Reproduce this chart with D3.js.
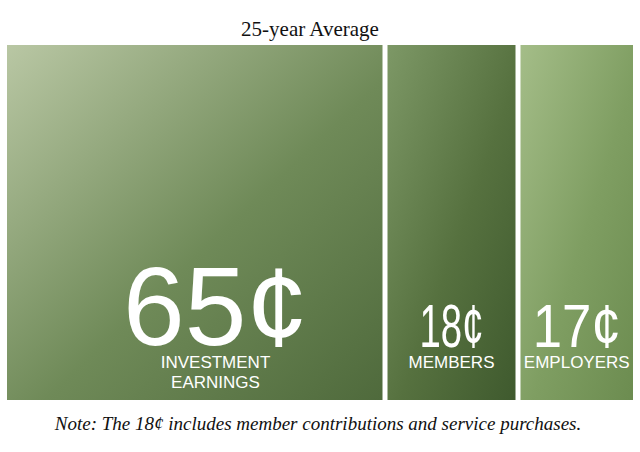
<!DOCTYPE html>
<html><head><meta charset="utf-8">
<script src="https://cdn.jsdelivr.net/npm/d3@7"></script>
<style>body{margin:0;background:#fff}</style></head>
<body><svg id="c" width="640" height="452"></svg>
<script>
const categories = ["INVESTMENT|EARNINGS", "MEMBERS", "EMPLOYERS"];
const values = [65, 18, 17];
const valueLabels = ["65¢", "18¢", "17¢"];
const title = "25-year Average";
const note = "Note: The 18¢ includes member contributions and service purchases.";
const fills = [["#b9c7a4","#6f8a58","#4f6a3c"],["#7d9866","#56713f","#3f5a2e"],["#a4bd88","#7f9e62","#6c8c50"]];

(function(){
const svg = d3.select("#c");
const defs = svg.append("defs");
fills.forEach((f,i)=>{
  const g = defs.append("linearGradient").attr("id","g"+i).attr("x1",0).attr("y1",0).attr("x2",1).attr("y2",1);
  g.append("stop").attr("offset","0%").attr("stop-color",f[0]);
  g.append("stop").attr("offset","55%").attr("stop-color",f[1]);
  g.append("stop").attr("offset","100%").attr("stop-color",f[2]);
});
const cum = d3.cumsum(values);
const starts = cum.map((c,i)=>c-values[i]);
const edges = d3.scaleLinear().domain([0,65,83,100]).range([7,385,518,633]);
const y0=45, y1=400;
const gap = 2.5;
categories.forEach((c,i)=>{
  const x0 = edges(starts[i]) + (i>0?gap:0), x1 = edges(cum[i]) - (i<2?gap:0);
  svg.append("rect").attr("x",x0).attr("y",y0).attr("width",x1-x0).attr("height",y1-y0).attr("fill",`url(#g${i})`);
  const big = i===0?112:62, cx = i===0? x1-167 : (x0+x1)/2;
  svg.append("text").attr("x",cx).attr("y",i===0?345:347).attr("text-anchor","middle")
    .attr("font-family","Liberation Sans, Arial, sans-serif").attr("font-size",big).attr("fill","#fff")
    .attr("textLength", i===0?185:(i===1?64:88)).attr("lengthAdjust","spacingAndGlyphs")
    .text(valueLabels[i]);
  c.split("|").forEach((l,j)=>{
    svg.append("text").attr("x",cx).attr("y",368+j*20).attr("text-anchor","middle")
      .attr("font-family","Liberation Sans, Arial, sans-serif").attr("font-size",17).attr("fill","#fff").text(l);
  });
});
svg.append("text").attr("x",310).attr("y",36).attr("text-anchor","middle")
  .attr("font-family","Liberation Serif, serif").attr("font-size",21).attr("fill","#111").text(title);
svg.append("text").attr("x",318).attr("y",430).attr("text-anchor","middle")
  .attr("font-family","Liberation Serif, serif").attr("font-style","italic").attr("font-size",19).attr("fill","#111").text(note);
})();
</script></body></html>
